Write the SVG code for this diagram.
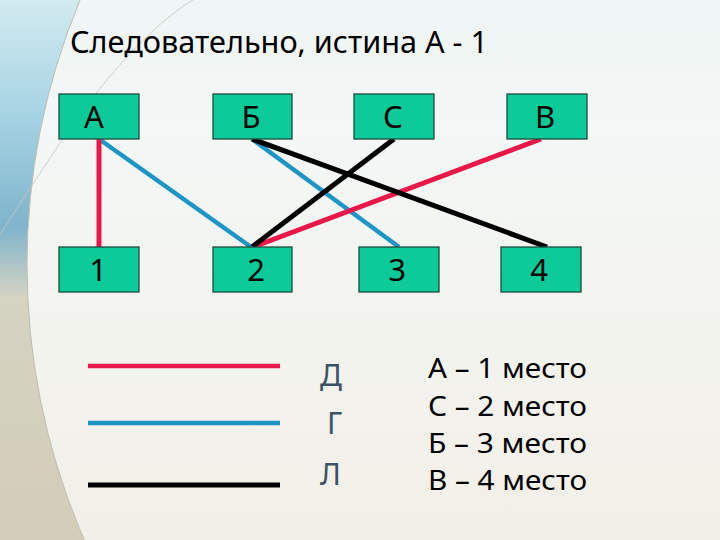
<svg xmlns="http://www.w3.org/2000/svg" width="720" height="540" viewBox="0 0 720 540">
<defs>
<linearGradient id="bgMain" x1="0" y1="0" x2="0" y2="1">
<stop offset="0" stop-color="#e2f0f4"/>
<stop offset="0.4" stop-color="#f3f7f5"/>
<stop offset="0.6" stop-color="#f3f2ec"/>
<stop offset="1" stop-color="#ede7da"/>
</linearGradient>
<linearGradient id="bgLeft" x1="0" y1="0" x2="0" y2="1">
<stop offset="0" stop-color="#d2eaf0"/>
<stop offset="0.2" stop-color="#a9d5e4"/>
<stop offset="0.42" stop-color="#7fb4cc"/>
<stop offset="0.55" stop-color="#d5d3c2"/>
<stop offset="1" stop-color="#d2cdb8"/>
</linearGradient>
<style>
.box{fill:#0ccb98;stroke:#1c4a3c;stroke-width:1.3}
.lbl{font-family:"Noto Sans","DejaVu Sans",sans-serif;font-size:31px;fill:#000;text-anchor:middle}
.title{font-family:"Noto Sans","DejaVu Sans",sans-serif;font-size:31px;fill:#000}
.leg{font-family:"Noto Sans","DejaVu Sans",sans-serif;font-size:30px;fill:#3b5166}
.res{font-family:"Noto Sans","DejaVu Sans",sans-serif;font-size:27px;fill:#000}
.red{stroke:#e8184a;stroke-width:5;fill:none}
.blue{stroke:#1d96c6;stroke-width:4.5;fill:none}
.black{stroke:#000;stroke-width:5;fill:none}
</style>
</defs>

<g id="background">
<rect x="0" y="0" width="720" height="540" fill="url(#bgLeft)"/>
<circle cx="715" cy="265" r="688" fill="url(#bgMain)" stroke="#bdbdb4" stroke-width="1"/>
<path d="M193,0 C150,25 95,90 62,140 S12,215 0,235" fill="none" stroke="#c4c8c4" stroke-width="1" opacity="0.8"/>
</g>

<text class="title" x="70" y="53" textLength="418" lengthAdjust="spacingAndGlyphs">Следовательно, истина А - 1</text>

<g id="connectors">
<line class="blue" x1="99" y1="139" x2="251" y2="247"/>
<line class="blue" x1="252" y1="139" x2="399" y2="247"/>
<line class="red" x1="99" y1="139" x2="99" y2="247"/>
<line class="red" x1="541" y1="139" x2="253" y2="247"/>
<line class="black" x1="252" y1="139" x2="547" y2="247"/>
<line class="black" x1="394" y1="139" x2="252" y2="247"/>
</g>

<g id="node-A"><rect class="box" x="59" y="94" width="80" height="45"/><text class="lbl" x="94" y="128">А</text></g>
<g id="node-B1"><rect class="box" x="213" y="94" width="79" height="45"/><text class="lbl" x="251" y="128">Б</text></g>
<g id="node-C"><rect class="box" x="354" y="94" width="80" height="45"/><text class="lbl" x="393" y="128">С</text></g>
<g id="node-V"><rect class="box" x="507" y="94" width="80" height="45"/><text class="lbl" x="545" y="128">В</text></g>
<g id="node-1"><rect class="box" x="59" y="247" width="80" height="45"/><text class="lbl" x="98" y="281">1</text></g>
<g id="node-2"><rect class="box" x="213" y="247" width="79" height="45"/><text class="lbl" x="256" y="281">2</text></g>
<g id="node-3"><rect class="box" x="359" y="247" width="80" height="45"/><text class="lbl" x="397" y="281">3</text></g>
<g id="node-4"><rect class="box" x="501" y="247" width="80" height="45"/><text class="lbl" x="539" y="281">4</text></g>

<g id="legend">
<line class="red" x1="88" y1="366" x2="280" y2="366" style="stroke-width:4.5"/>
<line class="blue" x1="88" y1="423" x2="280" y2="423"/>
<line class="black" x1="88" y1="485" x2="280" y2="485"/>
<text class="leg" x="320" y="386">Д</text>
<text class="leg" x="327" y="434">Г</text>
<text class="leg" x="320" y="485">Л</text>
</g>

<g id="results">
<text class="res" x="428" y="378" textLength="159" lengthAdjust="spacingAndGlyphs">А – 1 место</text>
<text class="res" x="428" y="416" textLength="159" lengthAdjust="spacingAndGlyphs">С – 2 место</text>
<text class="res" x="428" y="453" textLength="159" lengthAdjust="spacingAndGlyphs">Б – 3 место</text>
<text class="res" x="428" y="490" textLength="159" lengthAdjust="spacingAndGlyphs">В – 4 место</text>
</g>
</svg>
